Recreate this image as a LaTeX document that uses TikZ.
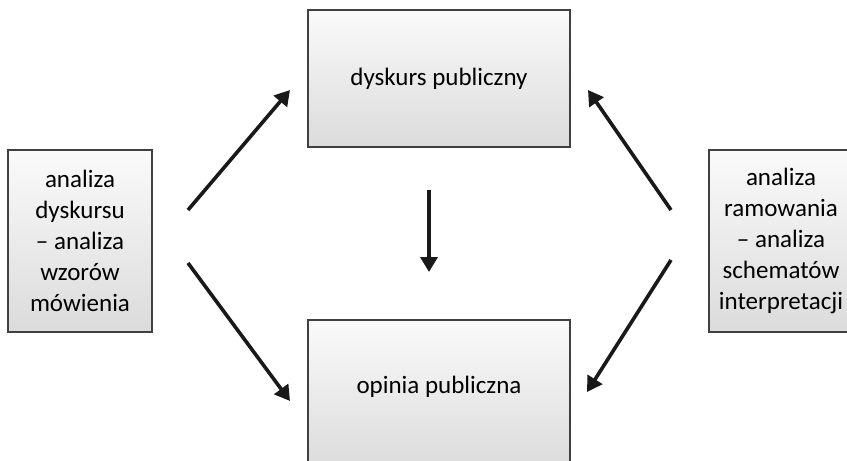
\documentclass[tikz,border=0pt]{standalone}
\usepackage{fontspec}
\setmainfont{Carlito}
\usetikzlibrary{arrows.meta}
\tikzset{
  pole/.style={draw=black!75,line width=1.3pt,top color=gray!4,bottom color=gray!28,
    inner sep=0pt,align=center,font=\fontsize{25}{31}\selectfont},
  strzalka/.style={line width=3.6pt,black!90,-{Triangle[length=15pt,width=17pt]}}
}
\begin{document}
\begin{tikzpicture}[x=1pt,y=-1pt]
  \useasboundingbox (0,0) rectangle (847,461);
  \node[pole,minimum width=262pt,minimum height=137pt] (dyskurs) at (439,78.5) {dyskurs publiczny};
  \node[pole,minimum width=262pt,minimum height=150pt] (opinia) at (439,395) {};
  \node[font=\fontsize{25}{31}\selectfont] (opiniatxt) at (439,387) {opinia publiczna};
  \node[pole,minimum width=144pt,minimum height=182pt] (lewa) at (80,241)
    {analiza\\dyskursu\\– analiza\\wzorów\\mówienia};
  \node[pole,minimum width=144pt,minimum height=182pt] (prawa) at (781,241)
    {analiza\\ramowania\\– analiza\\schematów\\interpretacji};
  % koncowki strzalek
  \coordinate (l1) at (188,210);
  \coordinate (l1k) at (290,90);
  \coordinate (l2) at (188,263);
  \coordinate (l2k) at (290,401);
  \coordinate (p1) at (671,210);
  \coordinate (p1k) at (588,90);
  \coordinate (p2) at (671,260);
  \coordinate (p2k) at (587,392);
  \coordinate (s1) at (429,190);
  \coordinate (s1k) at (429,272);
  \draw[strzalka] (l1) -- (l1k);
  \draw[strzalka] (l2) -- (l2k);
  \draw[strzalka] (p1) -- (p1k);
  \draw[strzalka] (p2) -- (p2k);
  \draw[strzalka] (s1) -- (s1k);
\end{tikzpicture}
\end{document}
